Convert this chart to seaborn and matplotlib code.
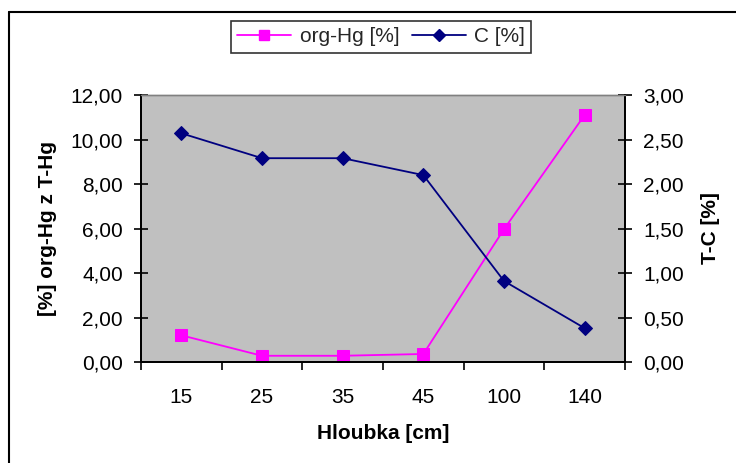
import matplotlib
matplotlib.use("Agg")
import matplotlib.pyplot as plt
import seaborn as sns
import pandas as pd
import numpy as np
from matplotlib.lines import Line2D
from matplotlib.ticker import FuncFormatter, MultipleLocator, FixedLocator

# Data
depths = ["15", "25", "35", "45", "100", "140"]
org_hg = [1.20, 0.28, 0.28, 0.36, 5.97, 11.10]
carbon = [2.57, 2.29, 2.29, 2.10, 0.91, 0.38]

sns.set_theme(style="white")
plt.rcParams["font.family"] = ["Liberation Sans", "DejaVu Sans"]

df = pd.DataFrame({"pos": np.arange(len(depths)), "depth": depths,
                   "org": org_hg, "C": carbon})

fig = plt.figure(figsize=(7.36, 4.63), dpi=100)
ax = fig.add_axes([141/736, 1-362/463, (625-141)/736, (362-95)/463])
ax.set_facecolor("#C0C0C0")

sns.lineplot(data=df, x="pos", y="org", ax=ax, color="#FF00FF", marker="s",
             markersize=8, markeredgecolor="#FF00FF", linewidth=1.3, legend=False)
ax2 = ax.twinx()
sns.lineplot(data=df, x="pos", y="C", ax=ax2, color="#000080", marker="D",
             markersize=7.5, markeredgecolor="#000080", linewidth=1.3, legend=False)

fs = 15
ax.set_xlim(-0.5, len(depths) - 0.5)
ax.set_ylim(0, 12)
ax2.set_ylim(0, 3)

def comma(fmt):
    return FuncFormatter(lambda v, p: (fmt % v).replace(".", ","))

ax.yaxis.set_major_locator(MultipleLocator(2))
ax.yaxis.set_major_formatter(comma("%.2f"))
ax2.yaxis.set_major_locator(MultipleLocator(0.5))
ax2.yaxis.set_major_formatter(comma("%.2f"))

ax.xaxis.set_major_locator(FixedLocator(np.arange(-0.5, len(depths), 1.0)))
ax.xaxis.set_major_formatter(FuncFormatter(lambda v, p: ""))
ax.set_xticks(np.arange(len(depths)), minor=True)
ax.set_xticklabels(depths, minor=True)

ax.tick_params(axis="x", which="major", direction="out", length=6, width=1.2,
               color="black", bottom=True)
ax.tick_params(axis="x", which="minor", length=0, labelsize=fs, pad=19,
               labelcolor="black")
ax.tick_params(axis="y", direction="inout", length=10, width=1.2, color="black",
               labelsize=fs, pad=8, left=True, labelcolor="black")
ax2.tick_params(axis="y", direction="inout", length=10, width=1.2, color="black",
                labelsize=fs, pad=8, right=True, labelcolor="black")

for a in (ax, ax2):
    for s in a.spines.values():
        s.set_visible(True)
    a.spines["top"].set_color("#808080")
    a.spines["top"].set_linewidth(1.0)
    for k in ("left", "bottom", "right"):
        a.spines[k].set_color("black")
        a.spines[k].set_linewidth(1.3)

ax.set_xlabel("Hloubka [cm]", fontsize=fs, fontweight="bold", labelpad=12, color="black")
ax.set_ylabel("[%] org-Hg z T-Hg", fontsize=fs, fontweight="bold", labelpad=10, color="black")
ax2.set_ylabel("T-C [%]", fontsize=fs, fontweight="bold", labelpad=12, color="black")
ax.grid(False)
ax2.grid(False)

handles = [
    Line2D([], [], color="#FF00FF", marker="s", markersize=7, linewidth=1.3,
           label="org-Hg [%]"),
    Line2D([], [], color="#000080", marker="D", markersize=6, linewidth=1.3,
           label="C [%]"),
]
leg = fig.legend(handles=handles, loc="center", bbox_to_anchor=(381/736, 1-37/463),
                 ncol=2, fontsize=fs, frameon=True, fancybox=False,
                 edgecolor="black", handlelength=2.6, columnspacing=0.6,
                 handletextpad=0.4, borderpad=0.3, borderaxespad=0)
leg.get_frame().set_linewidth(1.2)

# outer chart border (top and left visible)
fig.add_artist(Line2D([9/736, 1.0], [1-12/463, 1-12/463], color="black",
                      linewidth=1.5, transform=fig.transFigure))
fig.add_artist(Line2D([9/736, 9/736], [0, 1-12/463], color="black",
                      linewidth=1.5, transform=fig.transFigure))

fig.savefig("out.png", dpi=100, facecolor="white")
